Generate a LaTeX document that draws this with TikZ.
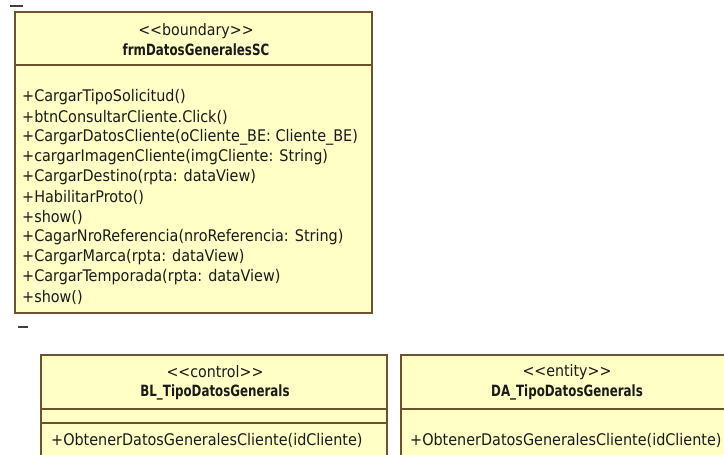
\documentclass[tikz,border=0pt]{standalone}
\usepackage{fontspec}
\setmainfont{DejaVu Sans Condensed}
\newfontfamily\umlnamefont{DejaVu Sans Condensed}[FakeStretch=0.85]
\definecolor{umlfill}{HTML}{FFFFC6}
\definecolor{umlline}{HTML}{6E5230}
\definecolor{umltext}{HTML}{1A1A1A}
\newcommand\myltlt{<\kern0pt<}
\newcommand\mygtgt{>\kern0pt>}
\begin{document}
\begin{tikzpicture}[x=1pt,y=-1pt,
  umlbox/.style={draw=umlline, fill=umlfill, line width=1.2pt},
  sepline/.style={draw=umlline, line width=1.2pt},
  mtext/.style={anchor=west, inner sep=0pt, text=umltext, font=\fontsize{16}{18}\selectfont},
  stereo/.style={anchor=center, inner sep=0pt, text=umltext, font=\fontsize{15.8}{18}\selectfont},
  cname/.style={anchor=center, inner sep=0pt, text=umltext, font=\umlnamefont\fontsize{15.5}{18}\selectfont\bfseries},
  tickmark/.style={draw=black!75, line width=1.5pt}]
\useasboundingbox (0,0) rectangle (724,455);
\clip (0,0) rectangle (724,455);
\fill[white] (0,0) rectangle (724,455);
% marks
\coordinate (m1a) at (10,6); \coordinate (m1b) at (23,6);
\draw[tickmark] (m1a) -- (m1b);
\coordinate (m2a) at (18,327); \coordinate (m2b) at (28,327);
\draw[tickmark] (m2a) -- (m2b);
% top box
\draw[umlbox] (15,12) rectangle (372,313);
\draw[sepline] (15,65) -- (372,65);
\node[stereo] (bst) at (196,31) {\myltlt boundary\mygtgt};
\node[cname] (bnm) at (196,50) {frmDatosGeneralesSC};
\node[mtext] (b1) at (22,97) {+CargarTipoSolicitud()};
\node[mtext] (b2) at (22,117) {+btnConsultarCliente.Click()};
\node[mtext] (b3) at (22,137) {+CargarDatosCliente(oCliente\_BE: Cliente\_BE)};
\node[mtext] (b4) at (22,157) {+cargarImagenCliente(imgCliente: String)};
\node[mtext] (b5) at (22,177) {+CargarDestino(rpta: dataView)};
\node[mtext] (b6) at (22,197) {+HabilitarProto()};
\node[mtext] (b7) at (22,217) {+show()};
\node[mtext] (b8) at (22,237) {+CagarNroReferencia(nroReferencia: String)};
\node[mtext] (b9) at (22,257) {+CargarMarca(rpta: dataView)};
\node[mtext] (b10) at (22,277) {+CargarTemporada(rpta: dataView)};
\node[mtext] (b11) at (22,297) {+show()};
% control box
\draw[umlbox] (41,355) rectangle (387,470);
\draw[sepline] (41,409) -- (387,409);
\draw[sepline] (41,423) -- (387,423);
\node[stereo] (cst) at (215,372) {\myltlt control\mygtgt};
\node[cname] (cnm) at (215,392) {BL\_TipoDatosGenerals};
\node[mtext] (c1) at (51,440) {+ObtenerDatosGeneralesCliente(idCliente)};
% entity box
\draw[umlbox] (401,355) rectangle (733,470);
\draw[sepline] (401,409) -- (733,409);
\node[stereo] (est) at (567,372) {\myltlt entity\mygtgt};
\node[cname] (enm) at (567,392) {DA\_TipoDatosGenerals};
\node[mtext] (e1) at (410,440) {+ObtenerDatosGeneralesCliente(idCliente)};
\end{tikzpicture}
\end{document}
